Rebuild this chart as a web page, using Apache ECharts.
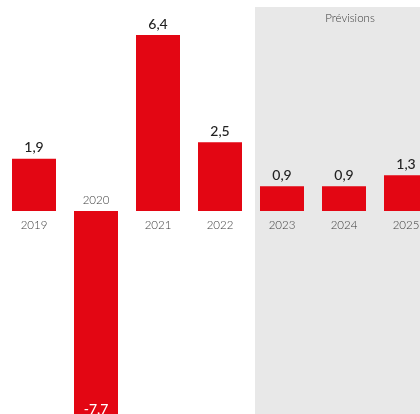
<!DOCTYPE html>
<html>
<head>
<meta charset="utf-8">
<script src="https://cdn.jsdelivr.net/npm/echarts@6/dist/echarts.min.js"></script>
<style>
  html, body { margin: 0; padding: 0; background: #fff; }
  #chart { width: 420px; height: 414px; }
</style>
</head>
<body>
<div id="chart"></div>
<script>
const years = ['2019', '2020', '2021', '2022', '2023', '2024', '2025'];
const growth = [1.9, -7.7, 6.4, 2.5, 0.9, 0.9, 1.3];
const forecastStart = '2023';
const forecastLabel = 'Prévisions';

const RED = '#e30613';
const fontFamily = 'Lato, "Open Sans", sans-serif';

const fmt = v => String(v).replace('.', ',');

// value labels: above positive bars, white inside the bottom of negative ones
const valueData = growth.map(v => ({
    value: v,
    label: v < 0
        ? { position: 'insideBottom', distance: 6, color: '#fff' }
        : { position: 'top', distance: 4, color: '#222' }
}));

// year labels sit on the opposite side of the baseline
const yearData = growth.map(v => ({
    value: v,
    label: v < 0
        ? { position: 'top', distance: 5 }
        : { position: 'bottom', distance: 8 }
}));

const chart = echarts.init(document.getElementById('chart'));

chart.setOption({
    animation: false,
    grid: {
        left: 3, width: 434, top: 18.5, height: 412.5,
        containLabel: false,
        outerBoundsMode: 'none'
    },
    xAxis: {
        type: 'category',
        data: years,
        axisLine: { show: false },
        axisTick: { show: false },
        axisLabel: { show: false },
        splitLine: { show: false }
    },
    yAxis: {
        type: 'value',
        min: -8,
        max: 7,
        show: false,
        splitLine: { show: false }
    },
    series: [
        {
            type: 'bar',
            data: valueData,
            barWidth: 44,
            itemStyle: { color: RED },
            z: 3,
            label: {
                show: true,
                fontFamily: fontFamily,
                fontSize: 14,
                fontWeight: 500,
                formatter: p => fmt(p.value)
            }
        },
        {
            type: 'bar',
            data: yearData,
            barWidth: 44,
            barGap: '-100%',
            itemStyle: { color: 'transparent' },
            z: 4,
            label: {
                show: true,
                fontFamily: fontFamily,
                fontSize: 11.5,
                fontWeight: 300,
                color: '#3a3a3a',
                formatter: '{b}'
            }
        }
    ]
});

// grey forecast zone, placed from the category scale
const x0 = chart.convertToPixel({ xAxisIndex: 0 }, forecastStart);
const x1 = chart.convertToPixel({ xAxisIndex: 0 }, years[years.length - 2]);
const bandLeft = x0 - 27;
chart.setOption({
    graphic: [
        {
            type: 'rect',
            z: -10,
            shape: { x: bandLeft, y: 7, width: 420 - bandLeft + 30, height: 420 },
            style: { fill: '#e8e8e8' }
        },
        {
            type: 'text',
            z: -5,
            x: x1 + 6,
            y: 18,
            style: {
                text: forecastLabel,
                fill: '#3a3a3a',
                font: '300 11.5px ' + fontFamily,
                align: 'center',
                verticalAlign: 'middle'
            }
        }
    ]
});
</script>
</body>
</html>
